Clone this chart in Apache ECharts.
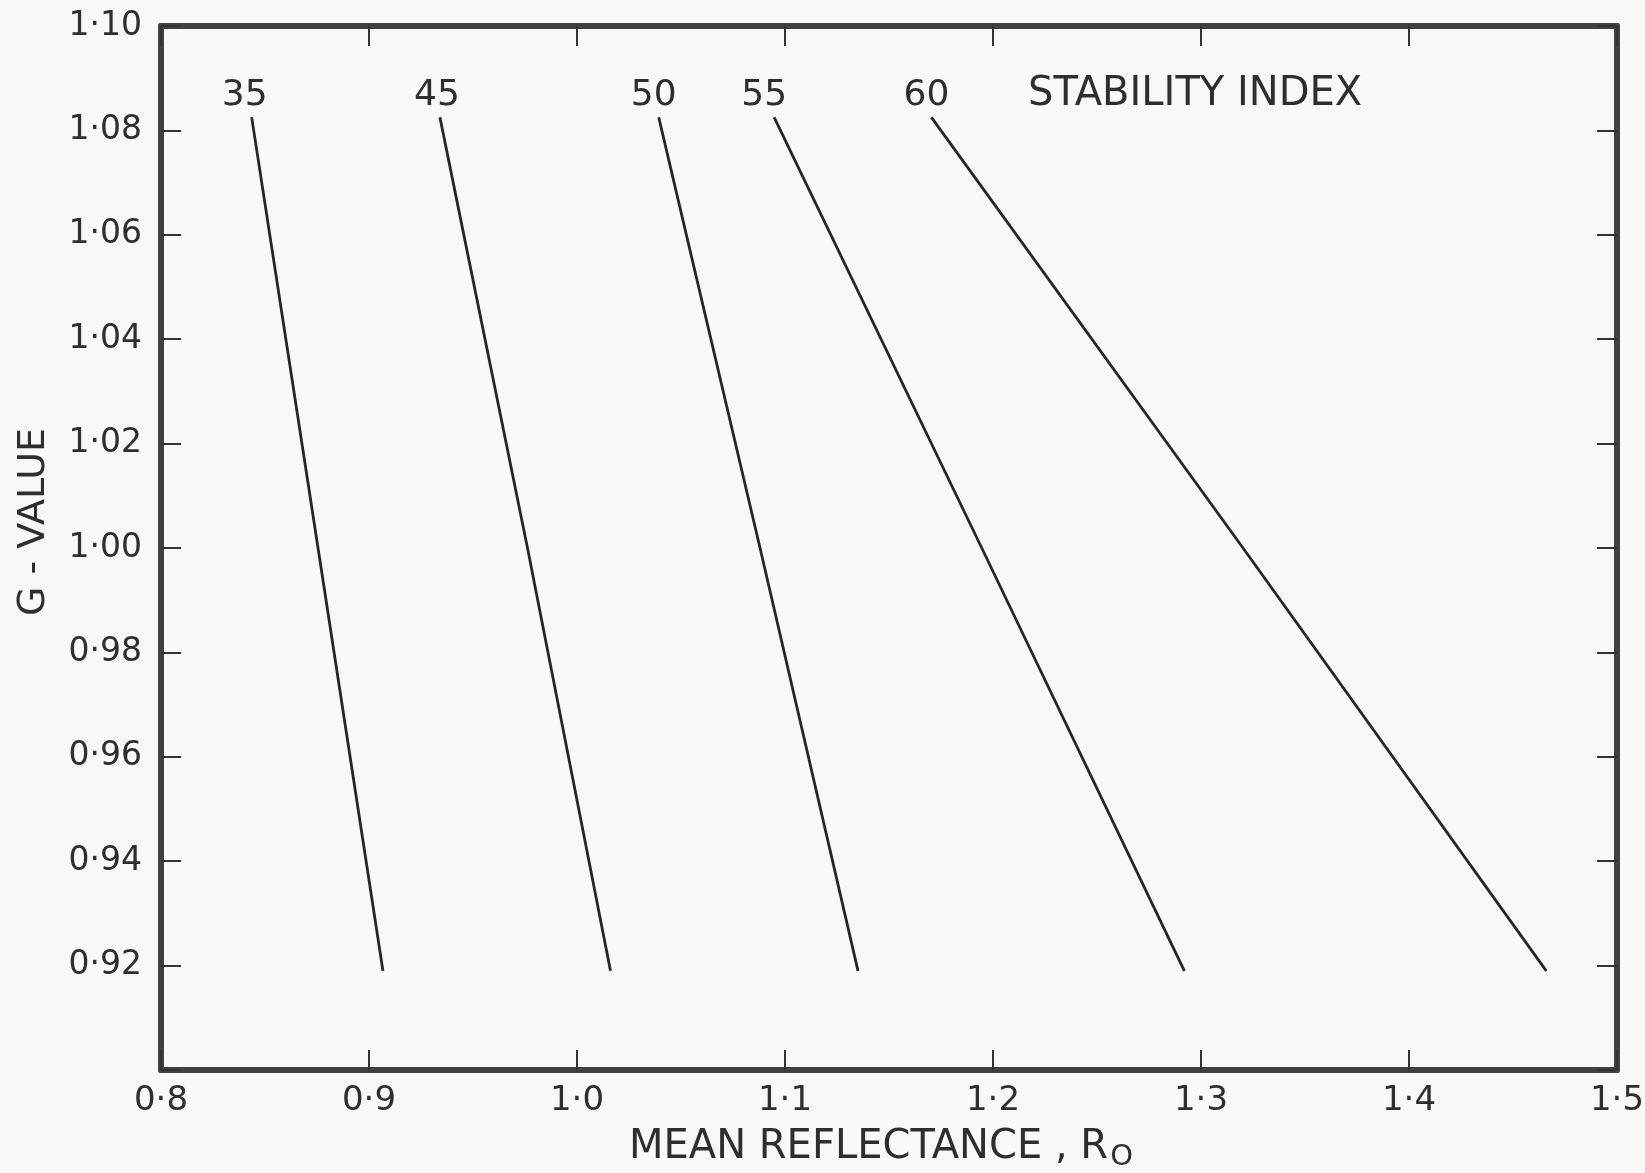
<!DOCTYPE html>
<html>
<head>
<meta charset="utf-8">
<script src="https://cdn.jsdelivr.net/npm/echarts@6/dist/echarts.min.js"></script>
<style>
html, body { margin: 0; padding: 0; background: #f8f8f6; }
#chart { width: 1645px; height: 1173px; }
</style>
</head>
<body>
<div id="chart"></div>
<script>
// stability index lines: [mean reflectance, G-value]
var indexNames = ['35', '45', '50', '55', '60'];
var si35 = [[0.8436, 1.0825], [0.8755, 1.000], [0.9067, 0.919]];
var si45 = [[0.9341, 1.0825], [0.9762, 1.000], [1.0161, 0.919]];
var si50 = [[1.0393, 1.0825], [1.0880, 1.000], [1.1351, 0.919]];
var si55 = [[1.0948, 1.0825], [1.1946, 1.000], [1.2920, 0.919]];
var si60 = [[1.1704, 1.0825], [1.3202, 1.000], [1.4660, 0.919]];
var xTicks = [0.8, 0.9, 1.0, 1.1, 1.2, 1.3, 1.4, 1.5];
var yTicks = [0.92, 0.94, 0.96, 0.98, 1.00, 1.02, 1.04, 1.06, 1.08, 1.10];

var font = 'DejaVu Sans';
var ink = '#2e2e2e';
var labelShift = [-7, -3, -5, -10, -5];

function fmtX(v) { return v.toFixed(1).replace('.', '·'); }
function fmtY(v) {
    if (Math.abs(v - 0.90) < 1e-6) return '';
    return v.toFixed(2).replace('.', '·');
}

function makeSeries(name, pts, i) {
    var data = pts.map(function (p, k) {
        var d = { value: p };
        if (k === 0) {
            d.label = {
                show: true, position: 'top', distance: 3,
                offset: [labelShift[i], 0],
                formatter: name,
                fontFamily: font, fontSize: 36, color: ink
            };
        }
        return d;
    });
    return {
        name: name,
        type: 'line',
        data: data,
        symbol: 'circle',
        symbolSize: 1,
        showSymbol: true,
        itemStyle: { color: '#262626' },
        lineStyle: { color: '#262626', width: 2.8 },
        animation: false
    };
}

var allLines = [si35, si45, si50, si55, si60];
var series = allLines.map(function (pts, i) { return makeSeries(indexNames[i], pts, i); });

var axisLineStyle = { show: true, lineStyle: { color: '#404040', width: 6 } };
var tickStyle = { show: true, inside: true, length: 20, lineStyle: { color: '#333', width: 2 } };

var option = {
    backgroundColor: '#f8f8f6',
    title: {
        text: 'STABILITY INDEX',
        left: 1023, top: 70,
        textStyle: { fontFamily: font, fontSize: 40, fontWeight: 'normal', color: ink }
    },
    grid: { left: 161, right: 28, top: 26, bottom: 103, outerBoundsMode: 'none', containLabel: false },
    xAxis: [{
        type: 'value', min: 0.8, max: 1.5, interval: 0.1,
        name: 'MEAN REFLECTANCE , R{sub|O}',
        nameLocation: 'middle', nameGap: 54,
        nameTextStyle: {
            fontFamily: font, fontSize: 40, color: ink, padding: [0, 16, 0, 0],
            rich: { sub: { fontFamily: font, fontSize: 29, color: ink, verticalAlign: 'bottom', padding: [19, 0, 0, 2] } }
        },
        axisLine: axisLineStyle,
        axisTick: tickStyle,
        axisLabel: { formatter: fmtX, fontFamily: font, fontSize: 34, color: ink, margin: 14 },
        splitLine: { show: false }
    }, {
        type: 'value', min: 0.8, max: 1.5, interval: 0.1, position: 'top',
        axisLine: axisLineStyle,
        axisTick: tickStyle,
        axisLabel: { show: false },
        splitLine: { show: false }
    }],
    yAxis: [{
        type: 'value', min: 0.90, max: 1.10, interval: 0.02,
        name: 'G - VALUE',
        nameLocation: 'middle', nameGap: 108, nameRotate: 90,
        nameTextStyle: { fontFamily: font, fontSize: 38, color: ink, padding: [0, 0, 0, 52] },
        axisLine: axisLineStyle,
        axisTick: tickStyle,
        axisLabel: { formatter: fmtY, fontFamily: font, fontSize: 33, color: ink, margin: 19 },
        splitLine: { show: false }
    }, {
        type: 'value', min: 0.90, max: 1.10, interval: 0.02, position: 'right',
        axisLine: axisLineStyle,
        axisTick: tickStyle,
        axisLabel: { show: false },
        splitLine: { show: false }
    }],
    series: series
};

var myChart = echarts.init(document.getElementById('chart'));
myChart.setOption(option);
</script>
</body>
</html>
